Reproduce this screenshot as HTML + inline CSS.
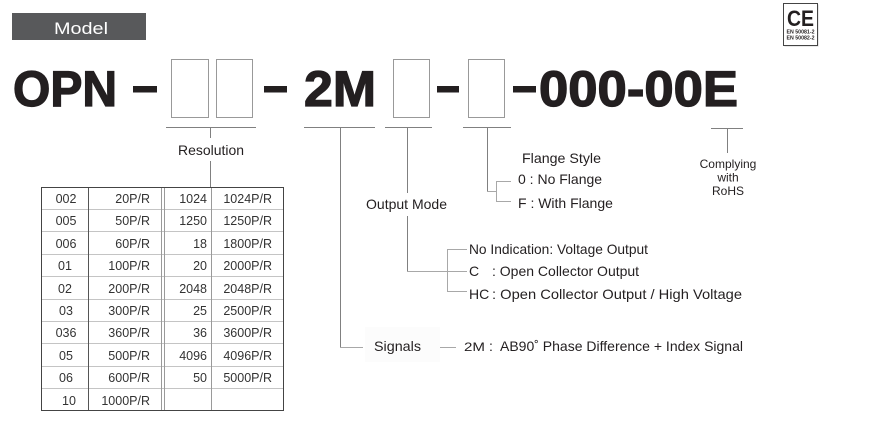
<!DOCTYPE html>
<html>
<head>
<meta charset="utf-8">
<style>
  html, body { margin: 0; padding: 0; background: #ffffff; }
  body { width: 872px; height: 436px; overflow: hidden; }
  svg { display: block; }
  text { font-family: "Liberation Sans", Arial, sans-serif; }
</style>
</head>
<body>
<svg width="872" height="436" viewBox="0 0 872 436" xmlns="http://www.w3.org/2000/svg">
  <rect x="0" y="0" width="872" height="436" fill="#ffffff"/>

  <!-- Model banner -->
  <rect x="12" y="13" width="134" height="27" fill="#58595b"/>
  <text x="54" y="34" font-size="17" fill="#ffffff" textLength="54" lengthAdjust="spacingAndGlyphs">Model</text>

  <!-- CE mark -->
  <rect x="784.5" y="4.5" width="34" height="42" fill="#d0d0d0"/>
  <rect x="783.5" y="3.5" width="34" height="42" fill="#ffffff" stroke="#444" stroke-width="1"/>
  <text x="787" y="26" font-size="22" font-weight="bold" fill="#231f20" textLength="27" lengthAdjust="spacingAndGlyphs">CE</text>
  <text x="786.5" y="33.5" font-size="5" font-weight="bold" fill="#231f20" textLength="28" lengthAdjust="spacingAndGlyphs">EN 50081-2</text>
  <text x="786.5" y="39.5" font-size="5" font-weight="bold" fill="#231f20" textLength="28" lengthAdjust="spacingAndGlyphs">EN 50082-2</text>

  <!-- Big model code -->
  <g fill="#231f20" stroke="#231f20" stroke-width="1.3" font-weight="bold" font-size="50">
    <text x="13" y="106" textLength="104" lengthAdjust="spacingAndGlyphs">OPN</text>
    <text x="304" y="106" textLength="72" lengthAdjust="spacingAndGlyphs">2M</text>
    <text x="539" y="106" textLength="199" lengthAdjust="spacingAndGlyphs">000-00E</text>
  </g>
  <g fill="#231f20">
    <rect x="133" y="86" width="24" height="6.5"/>
    <rect x="264" y="86" width="23" height="6.5"/>
    <rect x="437" y="86" width="22" height="6.5"/>
    <rect x="513" y="86" width="23" height="6.5"/>
  </g>

  <!-- Blank boxes -->
  <g fill="none" stroke="#999" stroke-width="1">
    <rect x="171.5" y="59.5" width="37" height="58"/>
    <rect x="216.5" y="59.5" width="36" height="58"/>
    <rect x="393.5" y="59.5" width="36" height="58"/>
    <rect x="468.5" y="59.5" width="36" height="58"/>
  </g>

  <!-- Main connector lines -->
  <g stroke="#808080" stroke-width="1" fill="none">
    <line x1="166" y1="127.5" x2="256" y2="127.5"/>
    <line x1="210.5" y1="127" x2="210.5" y2="138"/>
    <line x1="210.5" y1="161" x2="210.5" y2="187"/>
    <line x1="304" y1="127.5" x2="375" y2="127.5"/>
    <line x1="340.5" y1="127" x2="340.5" y2="348"/>
    <line x1="385" y1="127.5" x2="432" y2="127.5"/>
    <line x1="407.5" y1="127" x2="407.5" y2="193"/>
    <line x1="407.5" y1="216" x2="407.5" y2="272"/>
    <line x1="463" y1="127.5" x2="511" y2="127.5"/>
    <line x1="487.5" y1="127" x2="487.5" y2="192"/>
    <line x1="711" y1="128.5" x2="743" y2="128.5"/>
    <line x1="727.5" y1="128" x2="727.5" y2="153"/>
  </g>
  <g stroke="#a8a8a8" stroke-width="1" fill="none">
    <line x1="487" y1="191.5" x2="497" y2="191.5"/>
    <line x1="496.5" y1="181" x2="496.5" y2="202"/>
    <line x1="496" y1="181.5" x2="511" y2="181.5"/>
    <line x1="496" y1="201.5" x2="511" y2="201.5"/>
    <line x1="407" y1="271.5" x2="467" y2="271.5"/>
    <line x1="447.5" y1="249" x2="447.5" y2="292"/>
    <line x1="447" y1="249.5" x2="467" y2="249.5"/>
    <line x1="447" y1="291.5" x2="467" y2="291.5"/>
    <line x1="340" y1="347.5" x2="363" y2="347.5"/>
    <line x1="432" y1="347.5" x2="456" y2="347.5"/>
  </g>

  <!-- Labels -->
  <g fill="#231f20" font-size="14">
    <text x="178" y="155" textLength="66" lengthAdjust="spacingAndGlyphs">Resolution</text>
    <text x="522" y="163" textLength="79" lengthAdjust="spacingAndGlyphs">Flange Style</text>
    <text x="518" y="184">0 : No Flange</text>
    <text x="518" y="208">F : With Flange</text>
    <text x="366" y="209" textLength="81" lengthAdjust="spacingAndGlyphs">Output Mode</text>
    <text x="469" y="254" textLength="179" lengthAdjust="spacingAndGlyphs">No Indication: Voltage Output</text>
    <text x="469" y="276">C</text>
    <text x="492" y="276">: Open Collector Output</text>
    <text x="469" y="299">HC</text>
    <text x="492" y="299" textLength="250" lengthAdjust="spacingAndGlyphs">: Open Collector Output / High Voltage</text>
  </g>

  <!-- Signals -->
  <rect x="365" y="327" width="75" height="35" fill="#fcfcfc"/>
  <g fill="#231f20">
    <text x="374" y="351" font-size="14" textLength="47" lengthAdjust="spacingAndGlyphs">Signals</text>
    <text x="464" y="351" font-size="11.5" textLength="21" lengthAdjust="spacingAndGlyphs">2M</text>
    <text x="489" y="351" font-size="14">:</text>
    <text x="500" y="351" font-size="14" textLength="243" lengthAdjust="spacingAndGlyphs">AB90˚ Phase Difference + Index Signal</text>
  </g>

  <!-- RoHS -->
  <g fill="#231f20" font-size="12" text-anchor="middle">
    <text x="728" y="168">Complying</text>
    <text x="728" y="181.5">with</text>
    <text x="728" y="195">RoHS</text>
  </g>

  <!-- Resolution table -->
  <g stroke="#c4c4c4" stroke-width="1">
    <line x1="41" y1="209.5" x2="284" y2="209.5"/>
    <line x1="41" y1="231.5" x2="284" y2="231.5"/>
    <line x1="41" y1="254.5" x2="284" y2="254.5"/>
    <line x1="41" y1="276.5" x2="284" y2="276.5"/>
    <line x1="41" y1="299.5" x2="284" y2="299.5"/>
    <line x1="41" y1="321.5" x2="284" y2="321.5"/>
    <line x1="41" y1="343.5" x2="284" y2="343.5"/>
    <line x1="41" y1="366.5" x2="284" y2="366.5"/>
    <line x1="41" y1="388.5" x2="284" y2="388.5"/>
  </g>
  <g stroke="#9a9a9a" stroke-width="1">
    <line x1="161.5" y1="187" x2="161.5" y2="411"/>
    <line x1="164.5" y1="187" x2="164.5" y2="411"/>
    <line x1="211.5" y1="187" x2="211.5" y2="411"/>
  </g>
  <g stroke="#555" stroke-width="1">
    <line x1="88.5" y1="187" x2="88.5" y2="411"/>
  </g>
  <rect x="41.5" y="187.5" width="242" height="223" fill="none" stroke="#444" stroke-width="1"/>

  <g fill="#333" font-size="12.5">
    <g text-anchor="middle">
      <text x="66" y="203">002</text>
      <text x="66" y="225">005</text>
      <text x="66" y="248">006</text>
      <text x="65" y="270">01</text>
      <text x="65" y="293">02</text>
      <text x="66" y="315">03</text>
      <text x="66" y="337">036</text>
      <text x="66" y="360">05</text>
      <text x="66" y="382">06</text>
      <text x="69" y="405">10</text>
    </g>
    <g text-anchor="end">
      <text x="150" y="203">20P/R</text>
      <text x="150" y="225">50P/R</text>
      <text x="150" y="248">60P/R</text>
      <text x="150" y="270">100P/R</text>
      <text x="150" y="293">200P/R</text>
      <text x="150" y="315">300P/R</text>
      <text x="150" y="337">360P/R</text>
      <text x="150" y="360">500P/R</text>
      <text x="150" y="382">600P/R</text>
      <text x="150" y="405">1000P/R</text>

      <text x="207" y="203">1024</text>
      <text x="207" y="225">1250</text>
      <text x="207" y="248">18</text>
      <text x="207" y="270">20</text>
      <text x="207" y="293">2048</text>
      <text x="207" y="315">25</text>
      <text x="207" y="337">36</text>
      <text x="207" y="360">4096</text>
      <text x="207" y="382">50</text>

      <text x="272" y="203">1024P/R</text>
      <text x="272" y="225">1250P/R</text>
      <text x="272" y="248">1800P/R</text>
      <text x="272" y="270">2000P/R</text>
      <text x="272" y="293">2048P/R</text>
      <text x="272" y="315">2500P/R</text>
      <text x="272" y="337">3600P/R</text>
      <text x="272" y="360">4096P/R</text>
      <text x="272" y="382">5000P/R</text>
    </g>
  </g>
</svg>
</body>
</html>
